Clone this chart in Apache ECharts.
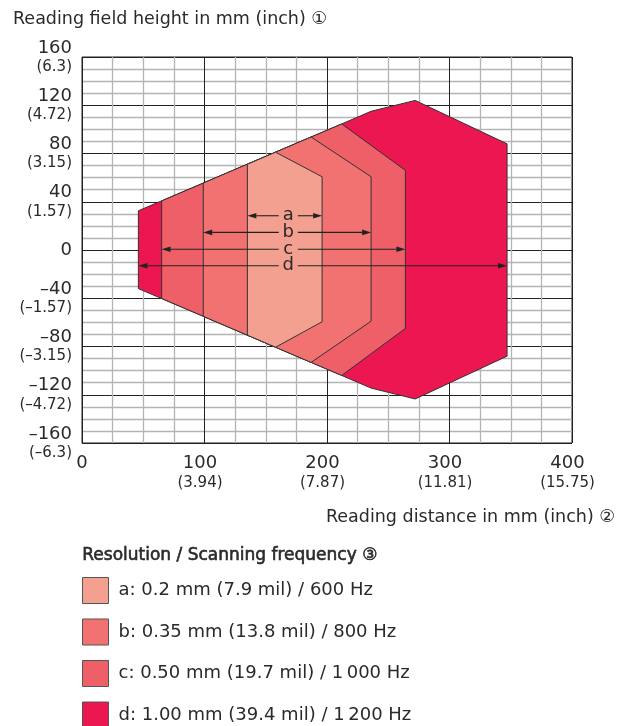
<!DOCTYPE html>
<html><head><meta charset="utf-8">
<script src="https://cdn.jsdelivr.net/npm/echarts@6/dist/echarts.min.js"></script>
<style>html,body{margin:0;padding:0;background:#fff}#chart{width:619px;height:726px}</style>
</head><body><div id="chart"></div>
<script>
// ---- axis ticks ----
const xTicks = [0, 100, 200, 300, 400];
const xTickInch = ['', '(3.94)', '(7.87)', '(11.81)', '(15.75)'];
const yTicks = [-160, -120, -80, -40, 0, 40, 80, 120, 160];
const yTickLabels = ['–160', '–120', '–80', '–40', '0', '40', '80', '120', '160'];
const yTickInch = ['(–6.3)', '(–4.72)', '(–3.15)', '(–1.57)', '', '(1.57)', '(3.15)', '(4.72)', '(6.3)'];

// ---- series (reading fields) ----
const seriesNames = [
  'a: 0.2 mm (7.9 mil) / 600 Hz',
  'b: 0.35 mm (13.8 mil) / 800 Hz',
  'c: 0.50 mm (19.7 mil) / 1\u2009000 Hz',
  'd: 1.00 mm (39.4 mil) / 1\u2009200 Hz'
];
const seriesColors = ['#F4A090', '#F27272', '#EF5F67', '#EC1651'];

const fieldA_x = [135, 158, 196, 196, 158, 135];
const fieldA_y = [71.1, 81.1, 60.7, -59.5, -80.6, -70.6];
const fieldB_x = [99, 187, 236, 236, 187, 99];
const fieldB_y = [55.5, 93.7, 60.7, -59, -93.2, -55];
const fieldC_x = [65, 212, 264, 264, 212, 65];
const fieldC_y = [40.7, 104.5, 66, -65, -104, -40.2];
const fieldD_x = [46, 212, 236, 272, 347, 347, 272, 236, 212, 46];
const fieldD_y = [32.5, 104.5, 115, 124, 88, -88, -123.5, -114.5, -104, -32];

// ---- dimension arrows ----
const arrowKeys = ['a', 'b', 'c', 'd'];
const arrowY = [28.4, 14.6, 0.6, -13];
const arrowStart = [135, 99, 65, 46];
const arrowEnd = [196, 236, 264, 347];
const arrowLabelX = [168.4, 168.4, 168.4, 168.4];

const FONT = '"DejaVu Sans", sans-serif';
const TXT = '#2a2a2a';

const fields = [
  [fieldA_x, fieldA_y], [fieldB_x, fieldB_y], [fieldC_x, fieldC_y], [fieldD_x, fieldD_y]
];

function polygonRender(color) {
  return function (params, api) {
    if (params.dataIndexInside !== 0) return null;
    const pts = [];
    for (let i = 0; i < params.dataInsideLength; i++) {
      pts.push(api.coord([api.value(0, i), api.value(1, i)]));
    }
    return {
      type: 'polygon',
      shape: { points: pts },
      style: { fill: color, stroke: '#333', lineWidth: 1 }
    };
  };
}

const fieldSeries = fields.map((f, k) => ({
  type: 'custom',
  name: seriesNames[k],
  coordinateSystem: 'cartesian2d',
  z: 10 - k,
  itemStyle: { color: seriesColors[k] },
  renderItem: polygonRender(seriesColors[k]),
  data: f[0].map((x, i) => [x, f[1][i]]),
  silent: true
}));

const arrowSeries = {
  type: 'custom',
  name: 'arrows',
  coordinateSystem: 'cartesian2d',
  z: 20,
  silent: true,
  encode: { x: [0, 1, 3], y: 2 },
  data: arrowKeys.map((k, i) => [arrowStart[i], arrowEnd[i], arrowY[i], arrowLabelX[i]]),
  renderItem: function (params, api) {
    const i = params.dataIndex;
    const p1 = api.coord([api.value(0), api.value(2)]);
    const p2 = api.coord([api.value(1), api.value(2)]);
    const pl = api.coord([api.value(3), api.value(2)]);
    const y = p1[1];
    const L = 9, H = 2.8, gap = 9.5;
    const lineStyle = { stroke: '#222', lineWidth: 1.1 };
    return {
      type: 'group',
      children: [
        { type: 'line', shape: { x1: p1[0] + L, y1: y, x2: pl[0] - gap, y2: y }, style: lineStyle },
        { type: 'line', shape: { x1: pl[0] + gap, y1: y, x2: p2[0] - L, y2: y }, style: lineStyle },
        { type: 'polygon', shape: { points: [[p1[0], y], [p1[0] + L, y - H], [p1[0] + L, y + H]] }, style: { fill: '#222' } },
        { type: 'polygon', shape: { points: [[p2[0], y], [p2[0] - L, y - H], [p2[0] - L, y + H]] }, style: { fill: '#222' } },
        { type: 'text', x: pl[0], y: y, style: { text: arrowKeys[i], fill: TXT, font: '18px ' + FONT, align: 'center', verticalAlign: 'middle' } }
      ]
    };
  }
};

const chart = echarts.init(document.getElementById('chart'), null, { renderer: 'canvas' });
chart.setOption({
  animation: false,
  backgroundColor: '#fff',
  textStyle: { fontFamily: FONT },
  grid: { left: 82, top: 57, width: 490, height: 386, show: true, borderColor: '#222', borderWidth: 1, backgroundColor: '#fff' },
  xAxis: {
    type: 'value', min: 0, max: 400, interval: 100,
    axisLine: { show: false }, axisTick: { show: false },
    splitLine: { show: true, lineStyle: { color: '#222', width: 1 } },
    minorTick: { show: false, splitNumber: 4 },
    minorSplitLine: { show: true, lineStyle: { color: '#b4b4b4', width: 1.3 } },
    axisLabel: {
      margin: 10,
      formatter: function (v) {
        const i = xTicks.indexOf(v);
        if (i < 0) return '';
        return xTickInch[i] ? '{n|' + v + '}\n{i|' + xTickInch[i] + '}' : '{z|' + v + '}';
      },
      rich: {
        z: { fontSize: 18, lineHeight: 20, color: TXT, fontFamily: FONT },
        n: { fontSize: 18, lineHeight: 20, color: TXT, fontFamily: FONT, padding: [0, 9, 0, 0] },
        i: { fontSize: 15, lineHeight: 21, color: TXT, fontFamily: FONT, padding: [0, 9, 0, 0] }
      }
    }
  },
  yAxis: {
    type: 'value', min: -160, max: 160, interval: 40,
    axisLine: { show: false }, axisTick: { show: false },
    splitLine: { show: true, lineStyle: { color: '#222', width: 1 } },
    minorTick: { show: false, splitNumber: 4 },
    minorSplitLine: { show: true, lineStyle: { color: '#b4b4b4', width: 1.3 } },
    axisLabel: {
      margin: 10,
      formatter: function (v) {
        const i = yTicks.indexOf(v);
        if (i < 0) return '';
        return yTickInch[i] ? '{n|' + yTickLabels[i] + '}\n{i|' + yTickInch[i] + '}' : '{n|' + yTickLabels[i] + '}';
      },
      rich: {
        n: { fontSize: 18, lineHeight: 20, color: TXT, fontFamily: FONT, align: 'right' },
        i: { fontSize: 15, lineHeight: 18, color: TXT, fontFamily: FONT, align: 'right' }
      }
    }
  },
  legend: {
    data: seriesNames,
    orient: 'vertical',
    left: 82, top: 577,
    height: 300,
    padding: 0,
    icon: 'rect',
    itemWidth: 26, itemHeight: 26, itemGap: 14.5,
    itemStyle: { borderColor: '#555', borderWidth: 1 },
    textStyle: { fontSize: 18, color: TXT, fontFamily: FONT, padding: [0, 0, 0, 5] },
    selectedMode: false
  },
  graphic: [
    { type: 'text', left: 13, top: 10, style: { text: 'Reading field height in mm (inch) \u2460', font: '17.5px ' + FONT, fill: TXT } },
    { type: 'text', right: 4, top: 508, style: { text: 'Reading distance in mm (inch) \u2461', font: '17.5px ' + FONT, fill: TXT } },
    { type: 'text', left: 82, top: 547, style: { text: 'Resolution / Scanning frequency \u2462', font: '17px ' + FONT, fill: TXT, stroke: TXT, lineWidth: 0.6 } }
  ],
  series: fieldSeries.concat([arrowSeries])
});
</script>
</body></html>
